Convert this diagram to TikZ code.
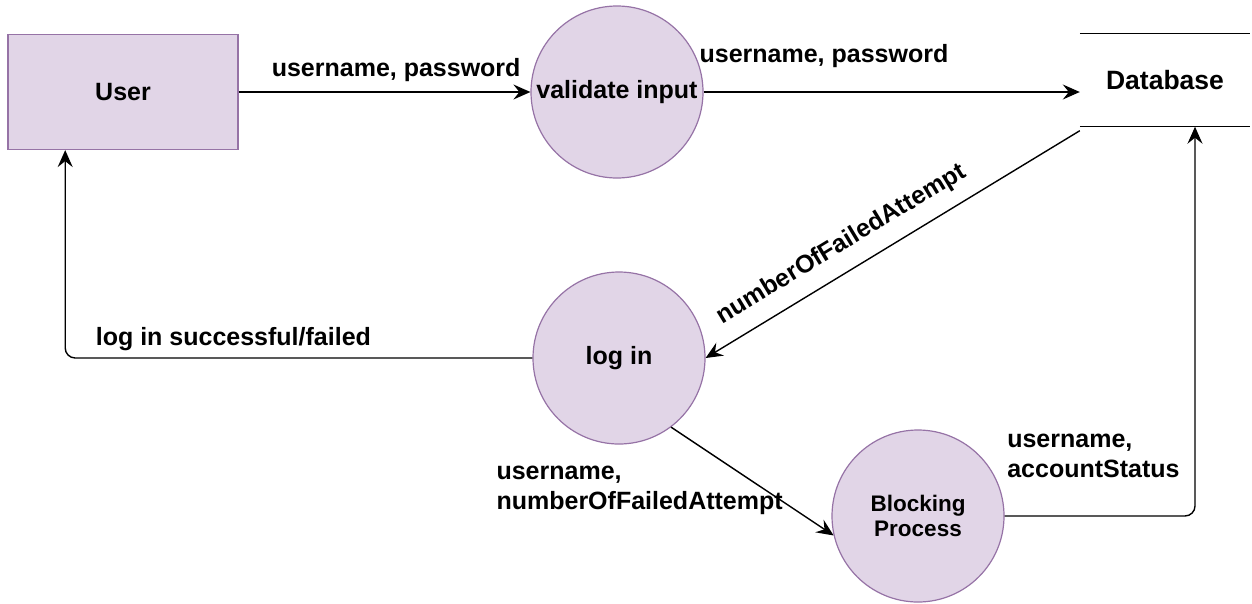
\documentclass[tikz,border=0pt]{standalone}
\usepackage{fontspec}
\setmainfont{Liberation Sans}
\usetikzlibrary{arrows.meta,calc}
\definecolor{procfill}{HTML}{E1D5E7}
\definecolor{procline}{HTML}{9673A6}

\begin{document}
\begin{tikzpicture}[x=1pt,y=-1pt,
			proc/.style={circle,draw=procline,fill=procfill,line width=1.2pt,minimum size=172pt,inner sep=0pt,align=center},
			entity/.style={rectangle,draw=procline,fill=procfill,line width=1.2pt,minimum width=230pt,minimum height=115pt},
			store/.style={rectangle,minimum width=170pt,minimum height=93pt},
			flow/.style={-{Stealth[length=17pt,width=15pt,inset=6pt]},line width=1.4pt},
			lbl/.style={align=left,inner sep=2pt}]
	\tikzstyle{every node}=[font=\fontsize{25}{30}\selectfont\bfseries]
	\useasboundingbox (0,0) rectangle (1252,603);

	\node[entity] (User) at (123,92) {User};
	\node[proc] (Validate) at (617,92) {validate input};
	\node[store,font=\fontsize{26.5}{30}\selectfont\bfseries] (Db) at (1165,80) {Database};
	\node[proc] (LogIn) at (619,358) {log in};
	\node[proc,font=\fontsize{22.5}{25}\selectfont\bfseries] (Blocking) at (918,516) {Blocking\\Process};

	\draw[line width=1.3pt] (Db.north west) -- (Db.north east)
		(Db.south west) -- (Db.south east);

	\coordinate (UserIn) at ($(User.south west)!0.25!(User.south east)$);
	\coordinate (DbIn) at ([xshift=30pt]Db.south);

	\draw[flow] (User) -- node[lbl,pos=0.54,above,yshift=8pt] {username, password} (Validate);
	\draw[flow] (Validate) -- node[lbl,pos=0.32,above,yshift=22pt] {username, password} (Validate -| Db.west);
	\draw[flow] ([yshift=-4pt]Db.south west) -- node[lbl,pos=0.6,sloped,above=12pt] {numberOfFailedAttempt} (LogIn.east);
	\draw[flow,rounded corners=10pt] (LogIn.west) -| node[lbl,pos=0.32,above,yshift=5pt] {log in successful/failed} (UserIn);
	\draw[flow] (LogIn.-53) -- node[lbl,pos=0.58,left,xshift=20pt] {username,\\numberOfFailedAttempt} (Blocking.193);
	\draw[flow,rounded corners=10pt] (Blocking.east) -| node[lbl,pos=0,anchor=south west,yshift=36pt] {username,\\accountStatus} (DbIn);
\end{tikzpicture}
\end{document}
